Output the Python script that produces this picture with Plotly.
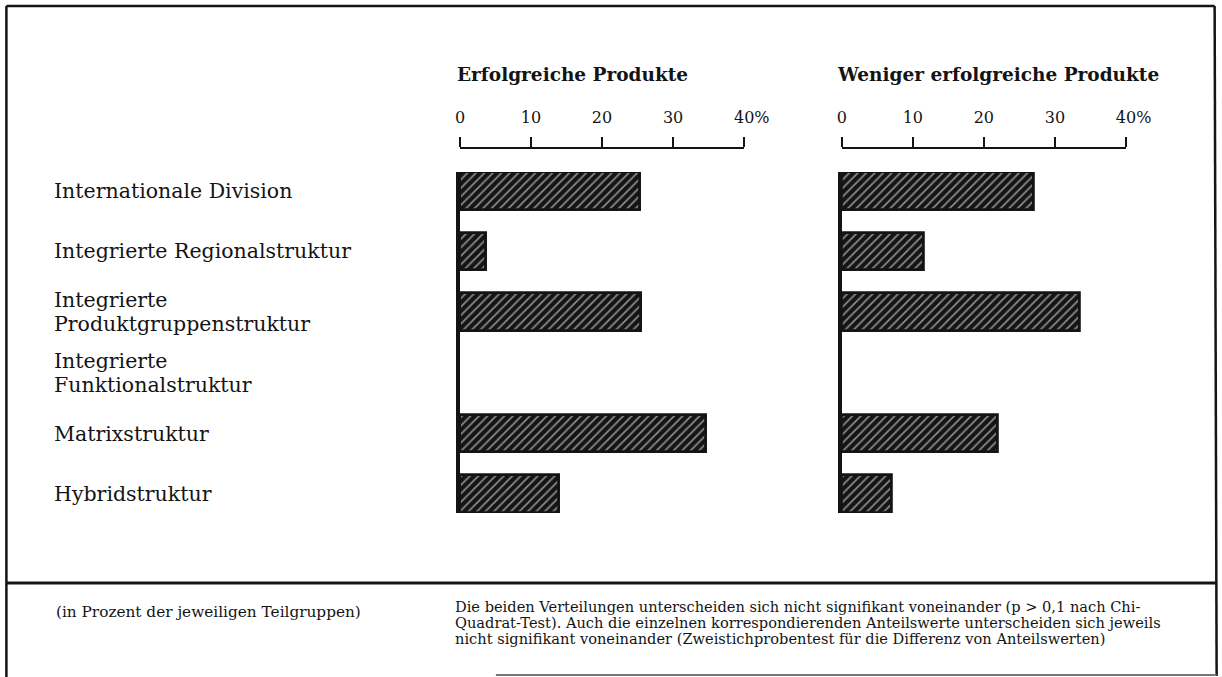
import plotly.graph_objects as go

# Organisationsstrukturen und Anteile (in %) je Teilgruppe
categories = [
    "Internationale Division",
    "Integrierte Regionalstruktur",
    "Integrierte<br>Produktgruppenstruktur",
    "Integrierte<br>Funktionalstruktur",
    "Matrixstruktur",
    "Hybridstruktur",
]
erfolgreich = [25.4, 3.6, 25.5, 0.0, 34.6, 14.0]
weniger_erfolgreich = [27.0, 11.6, 33.5, 0.0, 22.0, 7.1]

panel_titles = ["Erfolgreiche Produkte", "Weniger erfolgreiche Produkte"]
tick_values = [0, 10, 20, 30, 40]
tick_labels = ["0", "10", "20", "30", "\u00a0\u00a0\u00a040%"]

footnote_left = "(in Prozent der jeweiligen Teilgruppen)"
footnote_right = [
    "Die beiden Verteilungen unterscheiden sich nicht signifikant voneinander (p > 0,1 nach Chi-",
    "Quadrat-Test). Auch die einzelnen korrespondierenden Anteilswerte unterscheiden sich jeweils",
    "nicht signifikant voneinander (Zweistichprobentest für die Differenz von Anteilswerten)",
]

W, H = 1248, 677
INK = "#141414"
FONT = "DejaVu Serif"


def px_x(p):
    # horizontal layout position (page pixels) -> paper fraction
    return ((p - 2.6) / 0.979) / W


def px_y(p):
    return 1 - p / H


ypos = list(range(len(categories)))
bar_w = 0.62

fig = go.Figure()

# Dark bars crossed by thin white diagonal hatch lines
for values, xa, ya in [(erfolgreich, "x", "y"), (weniger_erfolgreich, "x2", "y2")]:
    fig.add_trace(go.Bar(
        x=values,
        y=ypos,
        orientation="h",
        width=bar_w,
        xaxis=xa,
        yaxis=ya,
        marker=dict(
            color=INK,
            line=dict(color=INK, width=[2.8 if v > 0 else 0 for v in values]),
            pattern=dict(shape="/", fgcolor="white", bgcolor=INK,
                         size=6, solidity=0.3),
        ),
        showlegend=False,
        hoverinfo="skip",
    ))

y_domain = [px_y(513), px_y(172)]
axis_pos = px_y(148)

common_x = dict(
    range=[0, 40],
    side="top",
    anchor="free",
    position=axis_pos,
    tickmode="array",
    tickvals=tick_values,
    ticktext=tick_labels,
    ticks="outside",
    ticklen=10,
    tickwidth=2,
    tickcolor=INK,
    showline=True,
    linewidth=2,
    linecolor=INK,
    showgrid=False,
    zeroline=False,
    tickfont=dict(family=FONT, size=16, color=INK),
    ticklabelstandoff=8,
    fixedrange=True,
)
common_y = dict(
    range=[len(categories) - 1 + bar_w / 2, -bar_w / 2],
    domain=y_domain,
    showticklabels=False,
    ticks="",
    showline=True,
    linewidth=3.5,
    linecolor=INK,
    showgrid=False,
    zeroline=False,
    fixedrange=True,
)

fig.update_layout(
    width=W,
    height=H,
    autosize=False,
    margin=dict(l=0, r=0, t=0, b=0, pad=0),
    paper_bgcolor="white",
    plot_bgcolor="white",
    xaxis=dict(domain=[px_x(459), px_x(744)], **common_x),
    xaxis2=dict(domain=[px_x(842), px_x(1127)], **common_x),
    yaxis=dict(anchor="x", **common_y),
    yaxis2=dict(anchor="x2", **common_y),
    bargap=0,
)

annotations = []
# Panel headings
for title, x0 in zip(panel_titles, (454, 835)):
    annotations.append(dict(
        text=f"<b>{title}</b>", xref="paper", yref="paper",
        x=px_x(x0), y=px_y(75), xanchor="left", yanchor="middle",
        showarrow=False, font=dict(family=FONT, size=18.5, color=INK),
    ))
# Category labels, one annotation per text line, centred on the bar row
line_step = 24
for i, cat in enumerate(categories):
    lines = cat.split("<br>")
    for k, line in enumerate(lines):
        annotations.append(dict(
            text=line, xref="paper", yref="y", x=px_x(50), y=i,
            yshift=-(k - (len(lines) - 1) / 2) * line_step,
            xanchor="left", yanchor="middle", align="left",
            showarrow=False, font=dict(family=FONT, size=20.5, color=INK),
        ))
# Footnotes
annotations.append(dict(
    text=footnote_left, xref="paper", yref="paper",
    x=px_x(52), y=px_y(612), xanchor="left", yanchor="middle",
    showarrow=False, font=dict(family=FONT, size=15.3, color=INK),
))
for k, line in enumerate(footnote_right):
    annotations.append(dict(
        text=line, xref="paper", yref="paper",
        x=px_x(452), y=px_y(606 + 16 * k), xanchor="left", yanchor="middle",
        showarrow=False, font=dict(family=FONT, size=14.6, color=INK),
    ))
fig.update_layout(annotations=annotations)

# Frame around the figure and the footnote box
frame = [
    (4, 6, 1216, 6, 2.5, INK),
    (4, 6, 4, 677, 2.5, INK),
    (1216, 6, 1218, 676, 2.5, INK),
    (4, 583, 1218, 583, 3, INK),
    (495, 675, 1218, 675, 2, "#777777"),
]
shapes = []
for x0, y0, x1, y1, w, c in frame:
    shapes.append(dict(
        type="line", xref="paper", yref="paper",
        x0=px_x(x0), y0=px_y(y0), x1=px_x(x1), y1=px_y(y1),
        line=dict(color=c, width=w),
    ))
fig.update_layout(shapes=shapes)

fig.write_html("out.html", config={"responsive": False, "displayModeBar": False})
